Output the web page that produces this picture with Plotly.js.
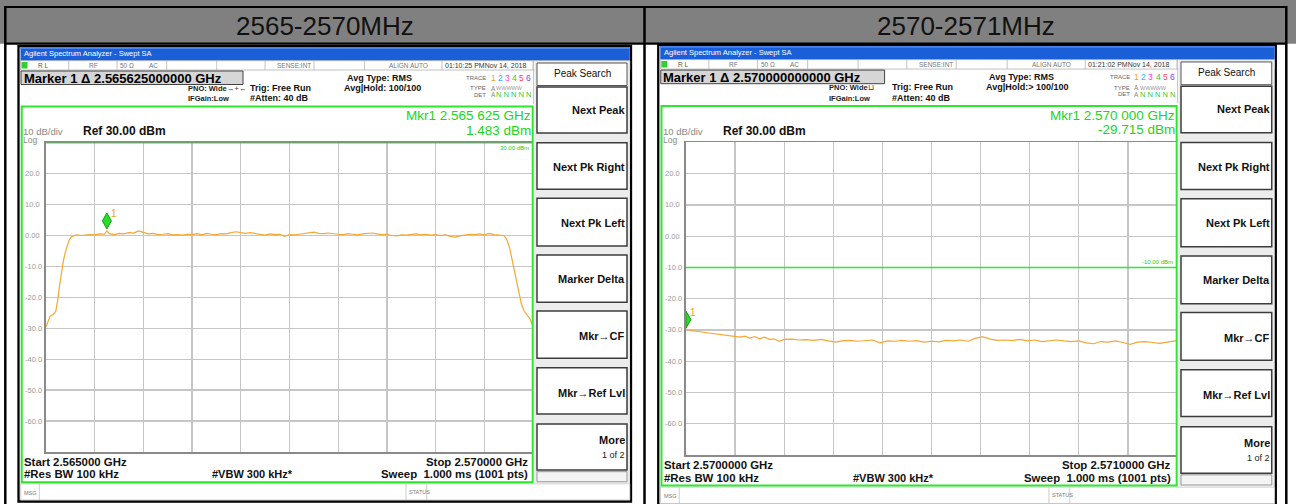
<!DOCTYPE html>
<html><head><meta charset="utf-8">
<script src="https://cdn.plot.ly/plotly-3.0.1.min.js"></script>
<style>html,body{margin:0;padding:0;background:#fff;}#chart{width:1296px;height:504px;}</style>
</head><body><div id="chart"></div>
<script>
// ---------------- data ----------------
const panelTitles = ['2565-2570MHz', '2570-2571MHz'];

const freqLeft = [2565.00,2565.02,2565.04,2565.06,2565.08,2565.10,2565.12,2565.14,2565.16,2565.18,2565.20,2565.22,2565.24,2565.26,2565.28,2565.32,2565.36,2565.40,2565.45,2565.50,2565.55,2565.60,2565.625,2565.65,2565.70,2565.75,2565.80,2565.85,2565.90,2565.95,2566.00,2566.05,2566.10,2566.15,2566.20,2566.25,2566.30,2566.35,2566.40,2566.45,2566.50,2566.55,2566.60,2566.65,2566.70,2566.75,2566.80,2566.85,2566.90,2566.95,2567.00,2567.05,2567.10,2567.15,2567.20,2567.25,2567.30,2567.35,2567.40,2567.45,2567.50,2567.55,2567.60,2567.65,2567.70,2567.75,2567.80,2567.85,2567.90,2567.95,2568.00,2568.05,2568.10,2568.15,2568.20,2568.25,2568.30,2568.35,2568.40,2568.45,2568.50,2568.55,2568.60,2568.65,2568.70,2568.75,2568.80,2568.85,2568.90,2568.95,2569.00,2569.05,2569.10,2569.15,2569.20,2569.25,2569.30,2569.35,2569.40,2569.45,2569.50,2569.55,2569.60,2569.65,2569.70,2569.73,2569.76,2569.79,2569.82,2569.85,2569.88,2569.91,2569.94,2569.97,2570.00];
const levelLeft = [-29.5,-27.6,-26.2,-25.8,-25.4,-24.5,-21.0,-16.0,-11.5,-8.0,-5.2,-3.0,-1.3,-0.5,-0.1,0.2,0.0,0.1,0.3,0.2,0.5,0.4,1.48,0.6,0.3,0.7,0.5,0.9,0.8,1.5,1.1,0.5,0.7,0.3,0.4,0.6,0.2,0.3,0.1,0.4,0.3,0.6,0.2,0.7,0.4,0.3,0.6,0.5,0.9,1.2,0.9,0.7,0.9,0.6,0.4,0.1,0.5,0.3,0.4,-0.3,0.3,0.2,0.4,0.6,0.8,1.1,0.7,0.6,0.8,0.5,0.4,0.3,0.6,0.4,0.2,0.5,0.6,0.8,0.5,0.3,0.4,0.0,-0.1,0.2,0.1,0.3,0.5,0.2,0.4,0.1,0.3,0.0,0.2,-0.3,-0.5,-0.1,0.2,0.4,0.3,0.5,0.2,0.7,0.3,0.2,0.0,-1.2,-4.0,-8.5,-13.0,-17.5,-22.0,-24.5,-25.6,-27.0,-29.4];

const freqRight = [2570.000,2570.010,2570.020,2570.030,2570.045,2570.060,2570.075,2570.090,2570.100,2570.110,2570.120,2570.130,2570.140,2570.150,2570.160,2570.170,2570.180,2570.190,2570.200,2570.215,2570.230,2570.245,2570.260,2570.275,2570.290,2570.305,2570.320,2570.335,2570.350,2570.365,2570.380,2570.395,2570.410,2570.425,2570.440,2570.455,2570.470,2570.485,2570.500,2570.515,2570.530,2570.545,2570.560,2570.575,2570.590,2570.605,2570.620,2570.635,2570.650,2570.665,2570.680,2570.695,2570.710,2570.725,2570.740,2570.755,2570.770,2570.785,2570.800,2570.815,2570.830,2570.845,2570.860,2570.875,2570.890,2570.905,2570.920,2570.935,2570.950,2570.965,2570.980,2571.000];
const levelRight = [-29.7,-30.2,-30.4,-30.6,-31.0,-31.2,-31.5,-31.8,-32.2,-32.3,-32.0,-32.6,-32.1,-32.8,-32.3,-33.0,-32.9,-33.6,-33.0,-32.9,-33.2,-33.1,-33.3,-33.0,-33.5,-33.9,-33.4,-33.3,-33.6,-33.4,-33.2,-34.1,-33.5,-33.6,-33.3,-33.6,-33.4,-33.9,-33.6,-33.8,-33.3,-33.5,-33.2,-33.6,-32.6,-32.2,-32.9,-33.3,-33.2,-33.4,-33.0,-33.5,-33.2,-33.7,-33.4,-33.2,-33.5,-33.7,-33.5,-34.1,-34.4,-33.7,-33.9,-33.5,-34.0,-34.6,-33.9,-33.7,-34.0,-34.3,-33.9,-33.4];

const spanStart = [2565, 2570];
const spanStop = [2570, 2571];
const gridStep = [0.5, 0.1];
const markerFreq = [2565.625, 2570.000];
const markerLevel = [1.483, -29.715];
const displayLine = [30, -10];
const yTickVals = [20, 10, 0, -10, -20, -30, -40, -50, -60];
const yTickText = ['20.0', '10.0', '0.00', '-10.0', '-20.0', '-30.0', '-40.0', '-50.0', '-60.0'];

const timeText = ['01:10:25 PMNov 14, 2018', '01:21:02 PMNov 14, 2018'];
const markerBoxText = ['Marker 1 Δ 2.565625000000 GHz', 'Marker 1 Δ 2.570000000000 GHz'];
const avgHoldText = ['Avg|Hold: 100/100', 'Avg|Hold:> 100/100'];
const pnoIcon = ['→+←', '⊔'];
const mkrFreqText = ['Mkr1 2.565 625 GHz', 'Mkr1 2.570 000 GHz'];
const mkrLevelText = ['1.483 dBm', '-29.715 dBm'];
const startText = ['Start 2.565000 GHz', 'Start 2.5700000 GHz'];
const stopText = ['Stop 2.570000 GHz', 'Stop 2.5710000 GHz'];
const displayLineText = ['30.00 dBm', '-10.00 dBm'];
const softkeys = ['Next Peak', 'Next Pk Right', 'Next Pk Left', 'Marker Delta', 'Mkr→CF', 'Mkr→Ref Lvl', 'More'];

// ---------------- layout helpers ----------------
const W = 1296, H = 504;
const FONT = 'Liberation Sans, Arial, sans-serif';
const TRACE = '#f5a733';
const GREEN = '#2ee62e';
const G = {ox: 0, oy: 0, sx: 1, sy: 1};
const P = [G, {ox: 639.6, oy: -1.67, sx: 1.0082, sy: 1.0103}];
const shapes = [], annos = [];
function tx(p, x) { return (p.ox + p.sx * x) / W; }
function ty(p, y) { return 1 - (p.oy + p.sy * y) / H; }
function rect(p, x0, y0, x1, y1, fill, lc, lw, layer) {
  shapes.push({type: 'rect', xref: 'paper', yref: 'paper', x0: tx(p, x0), x1: tx(p, x1), y0: ty(p, y1), y1: ty(p, y0),
    fillcolor: fill || 'rgba(0,0,0,0)', line: {color: lc || 'rgba(0,0,0,0)', width: lw || 0}, layer: layer || 'below'});
}
function seg(p, x0, y0, x1, y1, c, w, layer) {
  shapes.push({type: 'line', xref: 'paper', yref: 'paper', x0: tx(p, x0), x1: tx(p, x1), y0: ty(p, y0), y1: ty(p, y1),
    line: {color: c, width: w}, layer: layer || 'below'});
}
function txt(p, x, y, s, size, color, anchor, bold) {
  annos.push({xref: 'paper', yref: 'paper', x: tx(p, x), y: ty(p, y), text: bold ? '<b>' + s + '</b>' : s,
    showarrow: false, xanchor: anchor || 'left', yanchor: 'middle', borderpad: 0,
    font: {family: FONT, size: size, color: color}});
}

// ---------------- table header ----------------
rect(G, 0, 0, 1296, 43.7, '#808080');
seg(G, 4, 7, 1287, 7, '#000', 2.2);
seg(G, 4, 43.7, 1287, 43.7, '#000', 2.2);
seg(G, 5.3, 6, 5.3, 504, '#000', 2.5);
seg(G, 644.5, 6, 644.5, 504, '#000', 2.5);
seg(G, 1286.3, 6, 1286.3, 504, '#000', 2.5);
txt(G, 325, 25.5, panelTitles[0], 26, '#111', 'center');
txt(G, 966, 25.5, panelTitles[1], 26, '#111', 'center');

// ---------------- analyzer screens ----------------
const skTop = [87, 142.7, 198.3, 255, 311, 367.7, 424];
const skBot = [133, 189.3, 246, 302.3, 358.3, 414, 470];
const skTxt = [110, 166.7, 222.7, 279, 336, 392.7, 440];
const traceColors = ['#f0a020', '#1fb3ff', '#ff33ff', '#33cc33', '#ff4455', '#7744ff'];

for (let i = 0; i < 2; i++) {
  const p = P[i];
  rect(p, 18.5, 46, 631, 501.5, '#fff', '#000', 2.3);
  rect(p, 20.5, 47.3, 629.8, 60.7, '#1b5fd8');
  rect(p, 20.5, 47.3, 629.8, 49, '#4a86ee');
  txt(p, 23, 54, 'Agilent Spectrum Analyzer - Swept SA', 7.5, '#fff', 'left');
  // status row
  rect(p, 20.5, 60.7, 629.8, 70, '#fff', '#b0b0b0', 0.8);
  [68.75, 117, 166.7, 216.7, 265, 314, 364.6, 442, 533].forEach(x => seg(p, x, 61, x, 70, '#b5b5b5', 0.8));
  rect(p, 21.5, 62, 27.5, 68.5, '#2fd12f');
  txt(p, 37, 65.5, 'R L', 6.5, '#555');
  txt(p, 88, 65.5, 'RF', 6.5, '#777');
  txt(p, 119, 65.5, '50 Ω', 6.5, '#777');
  txt(p, 148, 65.5, 'AC', 6.5, '#777');
  txt(p, 312, 65.5, 'SENSE:INT', 6.5, '#777', 'right');
  txt(p, 388, 65.5, 'ALIGN AUTO', 6.5, '#777');
  txt(p, 444, 65.5, timeText[i], 7, '#333');
  // marker box
  rect(p, 21, 71, 243, 84.5, '#d6d6d6', '#444', 1);
  txt(p, 22.5, 78, markerBoxText[i], 13, '#000', 'left', true);
  txt(p, 187, 88.5, 'PNO: Wide', 7.5, '#222', 'left', true);
  txt(p, 226, 88.5, pnoIcon[i], 7.5, '#333');
  txt(p, 187, 99, 'IFGain:Low', 7.5, '#222', 'left', true);
  txt(p, 249, 88, 'Trig: Free Run', 9, '#111', 'left', true);
  txt(p, 249, 98.5, '#Atten: 40 dB', 9, '#111', 'left', true);
  txt(p, 346, 78, 'Avg Type: RMS', 9, '#111', 'left', true);
  txt(p, 343, 88, avgHoldText[i], 9, '#111', 'left', true);
  txt(p, 487, 77.7, 'TRACE', 6, '#666', 'right');
  traceColors.forEach((c, k) => txt(p, 489.5 + 7.1 * k, 77.7, String(k + 1), 8.5, c));
  txt(p, 487, 88.3, 'TYPE', 6, '#666', 'right');
  txt(p, 489.5, 88.3, 'A', 6.5, '#888');
  txt(p, 495, 88.3, 'WWWWW', 5.5, '#999');
  txt(p, 487, 94.8, 'DET', 6, '#666', 'right');
  txt(p, 489.5, 94.8, 'A', 6.5, '#888');
  txt(p, 495, 94.8, 'N N N N N', 7.5, '#33cc33');
  seg(p, 533.5, 61, 533.5, 104, '#bbb', 0.8);
  // green frame and readouts
  rect(p, 21.7, 106.5, 532.7, 482.3, null, GREEN, 2, 'above');
  txt(p, 532, 116, mkrFreqText[i], 13.5, '#22d422', 'right');
  txt(p, 532, 130, mkrLevelText[i], 13.5, '#22d422', 'right');
  txt(p, 22, 131.5, '10 dB/div', 9.5, '#888');
  txt(p, 82, 131, 'Ref 30.00 dBm', 12, '#111', 'left', true);
  txt(p, 22, 139.8, 'Log', 8.5, '#888');
  // bottom annotations
  txt(p, 23, 461.7, startText[i], 11.4, '#111', 'left', true);
  txt(p, 23, 474.3, '#Res BW 100 kHz', 11.4, '#111', 'left', true);
  txt(p, 211, 474.3, '#VBW 300 kHz*', 11, '#111', 'left', true);
  txt(p, 528.5, 461.7, stopText[i], 11.4, '#111', 'right', true);
  txt(p, 528.5, 474.3, 'Sweep&nbsp; 1.000 ms (1001 pts)', 11.4, '#111', 'right', true);
  // MSG row
  rect(p, 20.7, 483.8, 629.8, 500, '#fff', '#c0c0c0', 0.8);
  [39.3, 406, 426.7].forEach(x => seg(p, x, 484, x, 500, '#c0c0c0', 0.8));
  txt(p, 23, 492.5, 'MSG', 5.5, '#777');
  txt(p, 408, 492, 'STATUS', 5.5, '#777');
  // softkeys
  rect(p, 534.5, 61, 629.5, 483, '#ececec');
  rect(p, 537, 63, 627, 85.5, '#fff', '#555', 1);
  txt(p, 582, 73.5, 'Peak Search', 10, '#111', 'center');
  for (let k = 0; k < softkeys.length; k++) {
    rect(p, 537, skTop[k], 627, skBot[k], '#fff', '#3c3c3c', 1.5);
    txt(p, 626, skTxt[k], softkeys[k], 11, '#111', 'right', true);
  }
  txt(p, 626, 455, '1 of 2', 9, '#222', 'right');
  rect(p, 537, 471.7, 627, 481.7, '#f4f4f4', '#999', 1);

  // y tick labels & display line (through the axes)
  const ya = i ? 'y2' : 'y', xa = i ? 'x2' : 'x';
  yTickVals.forEach((v, k) => annos.push({xref: 'paper', yref: ya, x: tx(p, 24), y: v, text: yTickText[k],
    showarrow: false, xanchor: 'left', yanchor: 'middle', borderpad: 0, font: {family: FONT, size: 7.5, color: '#9a9a9a'}}));
  shapes.push({type: 'line', xref: 'paper', yref: ya, x0: tx(p, 46), x1: tx(p, 533), y0: displayLine[i], y1: displayLine[i],
    line: {color: GREEN, width: 1.5}, layer: 'above'});
  annos.push({xref: 'paper', yref: ya, x: tx(p, 531), y: displayLine[i], text: displayLineText[i], showarrow: false,
    xanchor: 'right', yanchor: displayLine[i] >= 30 ? 'top' : 'bottom', borderpad: 1,
    font: {family: FONT, size: 6, color: '#22cc22'}});
  // marker (the half of the diamond outside the grid is cut off at the span edge)
  const atEdge = markerFreq[i] <= spanStart[i];
  shapes.push({type: 'path', xref: xa, yref: ya, xsizemode: 'pixel', ysizemode: 'pixel',
    xanchor: markerFreq[i], yanchor: markerLevel[i],
    path: atEdge ? 'M0,1 L5,9.5 L0,18 Z' : 'M0,2 L4.5,10 L0,18 L-4.5,10 Z',
    fillcolor: '#2bdc2b', line: {color: '#149a14', width: 1}, layer: 'above'});
  annos.push({xref: xa, yref: ya, x: markerFreq[i], y: markerLevel[i], xshift: 7, yshift: 17, text: '1',
    showarrow: false, font: {family: FONT, size: 10, color: '#f0a020'}});
}

function xax(i) {
  const p = P[i];
  return {domain: [tx(p, 46), tx(p, 533)], range: [spanStart[i], spanStop[i]], tick0: spanStart[i], dtick: gridStep[i],
    showticklabels: false, ticks: '', showgrid: true, gridcolor: '#c6c6c6', gridwidth: 1.3, zeroline: false,
    showline: true, linecolor: '#8a8a8a', linewidth: 1.8, mirror: true, fixedrange: true, anchor: i ? 'y2' : 'y'};
}
function yax(i) {
  const p = P[i];
  return {domain: [ty(p, 452), ty(p, 142.7)], range: [-70, 30], tick0: -70, dtick: 10,
    showticklabels: false, ticks: '', showgrid: true, gridcolor: '#c6c6c6', gridwidth: 1.3, zeroline: false,
    showline: true, linecolor: '#8a8a8a', linewidth: 1.8, mirror: false, fixedrange: true, anchor: i ? 'x2' : 'x'};
}

const data = [
  {x: freqLeft, y: levelLeft, xaxis: 'x', yaxis: 'y', type: 'scatter', mode: 'lines', line: {color: TRACE, width: 1.2}, hoverinfo: 'skip'},
  {x: freqRight, y: levelRight, xaxis: 'x2', yaxis: 'y2', type: 'scatter', mode: 'lines', line: {color: TRACE, width: 1.2}, hoverinfo: 'skip'}
];
const layout = {
  width: W, height: H, margin: {l: 0, r: 0, t: 0, b: 0}, paper_bgcolor: '#fff', plot_bgcolor: 'rgba(0,0,0,0)',
  showlegend: false, xaxis: xax(0), yaxis: yax(0), xaxis2: xax(1), yaxis2: yax(1),
  shapes: shapes, annotations: annos, font: {family: FONT}
};
Plotly.newPlot('chart', data, layout, {staticPlot: true, displayModeBar: false});
</script></body></html>
